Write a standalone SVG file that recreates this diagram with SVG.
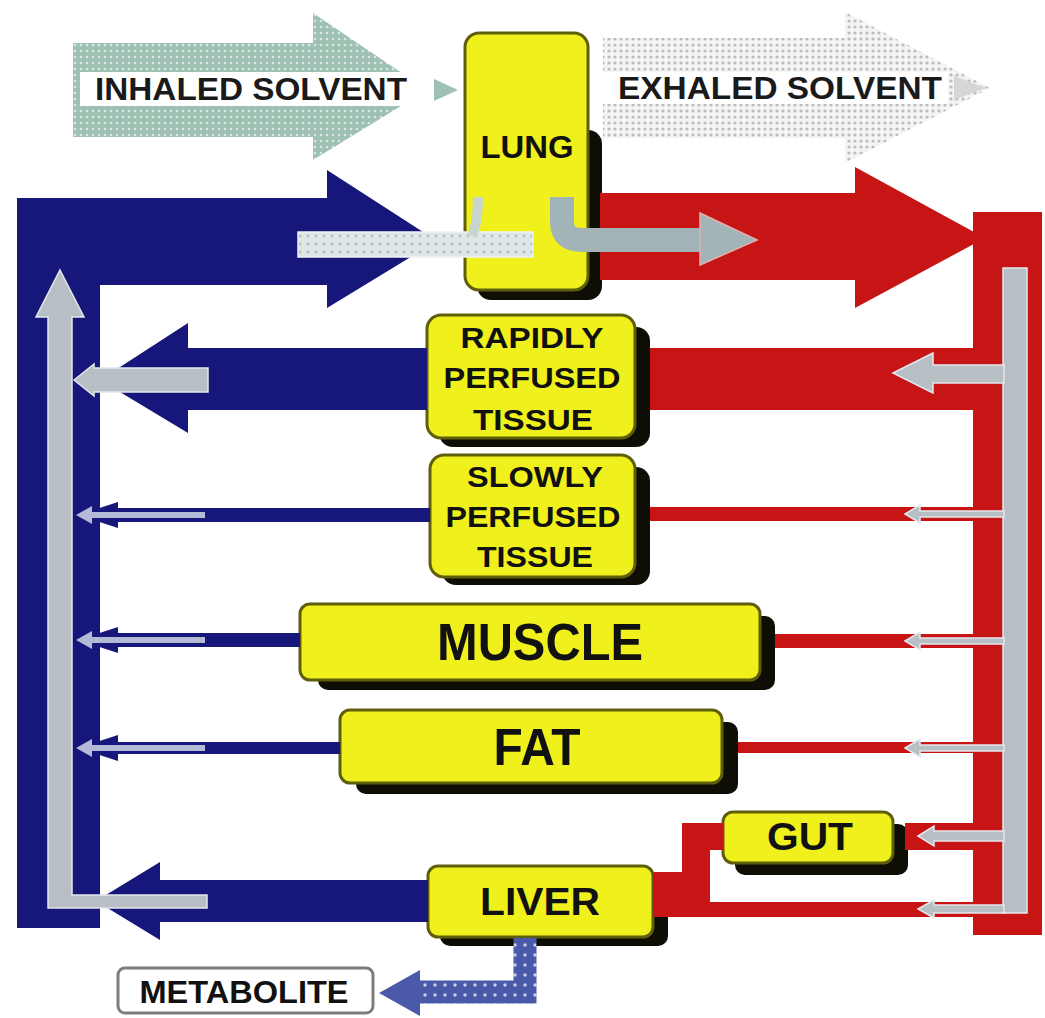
<svg xmlns="http://www.w3.org/2000/svg" width="1045" height="1018" viewBox="0 0 1045 1018">
<defs>
<pattern id="dotG" width="6" height="6" patternUnits="userSpaceOnUse"><rect width="6" height="6" fill="#9fc1b3"/><circle cx="3" cy="3" r="1.3" fill="#d8e8e0"/></pattern>
<pattern id="dotX" width="6" height="6" patternUnits="userSpaceOnUse"><rect width="6" height="6" fill="#f4f4f4"/><circle cx="3" cy="3" r="1.6" fill="#bcbcbc"/></pattern>
<pattern id="dotB" width="10" height="10" patternUnits="userSpaceOnUse"><rect width="10" height="10" fill="#4b59a9"/><circle cx="5" cy="5" r="1.7" fill="#c9d0ee"/></pattern>
<pattern id="dotL" width="8" height="8" patternUnits="userSpaceOnUse"><rect width="8" height="8" fill="#dfe6e6"/><circle cx="4" cy="4" r="1.5" fill="#b3c2c0"/></pattern>
<style>
.box{fill:#f0f01c;stroke:#5e5e0c;stroke-width:3}
.shd{fill:#0e0e06}
.lbl{font-family:"Liberation Sans Narrow","Liberation Sans",Arial,sans-serif;font-weight:bold;fill:#111;text-anchor:middle}
.sol{font-family:"Liberation Sans Narrow","Liberation Sans",Arial,sans-serif;font-weight:bold;fill:#1a1a1a}
.blue{fill:#17167a}
.red{fill:#c71515}
.gry{fill:#b7bfc4;stroke:#e3e8ec;stroke-width:1.5}
.gryb{fill:#b4b9d6}
</style>
</defs>

<g id="inhaled-solvent">
<path d="M73,43 H313 V13 L427,90 L313,160 V137 H73 Z" fill="url(#dotG)"/>
<rect x="80" y="72" width="348" height="34" fill="#ffffff"/>
<path d="M434,79 L458,90 L434,101 Z" fill="#9fc1b3"/>
<text class="sol" x="95" y="100" font-size="32" textLength="312" lengthAdjust="spacingAndGlyphs">INHALED SOLVENT</text>
</g>

<g id="exhaled-solvent">
<path d="M603,38 H845 V12 L990,88 L845,163 V138 H603 Z" fill="url(#dotX)"/>
<rect x="603" y="72" width="345" height="32" fill="#ffffff"/>
<path d="M954,76 L986,88 L954,100 Z" fill="#d6d6d6"/>
<text class="sol" x="618" y="99" font-size="32" textLength="324" lengthAdjust="spacingAndGlyphs">EXHALED SOLVENT</text>
</g>

<g id="lung">
<rect class="shd" x="477" y="130" width="125" height="170" rx="14"/>
<rect class="box" x="465" y="33" width="123" height="257" rx="14"/>
<text class="lbl" x="527" y="158" font-size="32" textLength="93" lengthAdjust="spacingAndGlyphs">LUNG</text>
</g>

<g id="rapidly-perfused">
<rect class="shd" x="439" y="327" width="211" height="120" rx="14"/>
<rect class="box" x="427" y="315" width="208" height="123" rx="14"/>
<text class="lbl" x="532" y="348" font-size="29" textLength="143" lengthAdjust="spacingAndGlyphs">RAPIDLY</text>
<text class="lbl" x="532" y="388" font-size="29" textLength="177" lengthAdjust="spacingAndGlyphs">PERFUSED</text>
<text class="lbl" x="533" y="430" font-size="29" textLength="120" lengthAdjust="spacingAndGlyphs">TISSUE</text>
</g>

<g id="slowly-perfused">
<rect class="shd" x="442" y="467" width="208" height="118" rx="14"/>
<rect class="box" x="430" y="455" width="205" height="122" rx="14"/>
<text class="lbl" x="535" y="487" font-size="29" textLength="136" lengthAdjust="spacingAndGlyphs">SLOWLY</text>
<text class="lbl" x="533" y="527" font-size="29" textLength="175" lengthAdjust="spacingAndGlyphs">PERFUSED</text>
<text class="lbl" x="535" y="567" font-size="29" textLength="116" lengthAdjust="spacingAndGlyphs">TISSUE</text>
</g>

<g id="muscle">
<rect class="shd" x="318" y="616" width="457" height="74" rx="10"/>
<rect class="box" x="300" y="604" width="460" height="76" rx="10"/>
<text class="lbl" x="540" y="660" font-size="52" textLength="206" lengthAdjust="spacingAndGlyphs">MUSCLE</text>
</g>

<g id="fat">
<rect class="shd" x="356" y="722" width="382" height="72" rx="10"/>
<rect class="box" x="340" y="710" width="382" height="73" rx="10"/>
<text class="lbl" x="537" y="765" font-size="52" textLength="87" lengthAdjust="spacingAndGlyphs">FAT</text>
</g>

<g id="gut">
<rect class="shd" x="735" y="824" width="173" height="51" rx="10"/>
<rect class="box" x="723" y="812" width="170" height="51" rx="10"/>
<text class="lbl" x="810" y="850" font-size="39" textLength="86" lengthAdjust="spacingAndGlyphs">GUT</text>
</g>

<g id="liver">
<rect class="shd" x="440" y="876" width="228" height="70" rx="10"/>
<rect class="box" x="428" y="866" width="225" height="71" rx="10"/>
<text class="lbl" x="540" y="915" font-size="39" textLength="120" lengthAdjust="spacingAndGlyphs">LIVER</text>
</g>

<g id="metabolite">
<rect x="118" y="968" width="255" height="45" rx="7" fill="#ffffff" stroke="#7c7c7c" stroke-width="3"/>
<text class="lbl" x="244" y="1003" font-size="32" textLength="209" lengthAdjust="spacingAndGlyphs">METABOLITE</text>
</g>

<g id="connectors">
<!-- venous (blue) side -->
<path class="blue" d="M17,198 H327 V170 L437,241 L327,308 V285 H100 V928 H17 Z"/>
<path class="blue" d="M427,348 H188 V323 L100,380 L188,433 V410 H427 Z"/>
<rect class="blue" x="100" y="508" width="330" height="14"/>
<rect class="blue" x="100" y="633" width="200" height="14"/>
<rect class="blue" x="100" y="742" width="240" height="12"/>
<path class="blue" d="M428,880 H160 V862 L96,901 L160,940 V922 H428 Z"/>
<path class="blue" d="M78,515 L118,502 L118,528 Z"/>
<path class="blue" d="M78,640 L118,627 L118,653 Z"/>
<path class="blue" d="M78,748 L118,735 L118,761 Z"/>
<!-- arterial (red) side -->
<path class="red" d="M600,193 H855 V167 L985,238 L855,308 V280 H600 Z"/>
<rect class="red" x="973" y="212" width="69" height="723"/>
<rect class="red" x="650" y="348" width="323" height="62"/>
<rect class="red" x="650" y="507" width="323" height="14"/>
<rect class="red" x="775" y="634" width="198" height="14"/>
<rect class="red" x="738" y="742" width="235" height="11"/>
<rect class="red" x="905" y="823" width="68" height="27"/>
<path class="red" d="M653,872 H682 V823 H723 V850 H710 V902 H973 V917 H653 Z"/>
<!-- solvent in blood (grey) -->
<path class="gry" d="M60,270 L84,317 H72 V895 H207 V908 H48 V317 H36 Z"/>
<path class="gry" d="M74,380 L94,364 V368 H208 V392 H94 V396 Z"/>
<path class="gryb" d="M76,515 L92,506 V512 H205 V518 H92 V524 Z"/>
<path class="gryb" d="M76,640 L92,631 V637 H205 V643 H92 V649 Z"/>
<path class="gryb" d="M76,748 L92,739 V745 H205 V751 H92 V757 Z"/>
<rect class="gry" x="1003" y="268" width="24" height="645"/>
<path class="gry" d="M893,373 L933,353 V365 H1004 V383 H933 V393 Z"/>
<path class="gry" d="M905,514 L920,505 V511 H1004 V517 H920 V523 Z"/>
<path class="gry" d="M905,641 L920,632 V638 H1004 V644 H920 V650 Z"/>
<path class="gry" d="M905,748 L920,739 V745 H1004 V751 H920 V757 Z"/>
<path class="gry" d="M918,836 L934,826 V831 H1004 V841 H934 V846 Z"/>
<path class="gry" d="M918,909 L934,900 V905 H1004 V913 H934 V918 Z"/>
<!-- lung exchange -->
<rect x="298" y="232" width="235" height="25" fill="url(#dotL)" stroke="#eef2f2" stroke-width="1.5"/>
<path d="M472,236 Q478,222 478,197" fill="none" stroke="#c9d6cf" stroke-width="10"/>
<path d="M562,197 V222 Q562,240 582,240 H702" fill="none" stroke="#a3b4b8" stroke-width="24"/>
<path d="M700,213 L757,240 L700,265 Z" fill="#a3b4b8" stroke="#e0b0b0" stroke-width="1.5"/>
<!-- metabolism -->
<path d="M525,938 V992 H416" fill="none" stroke="url(#dotB)" stroke-width="23"/>
<path d="M420,970 L379,993 L420,1016 Z" fill="#4b59a9"/>
</g>
</svg>
